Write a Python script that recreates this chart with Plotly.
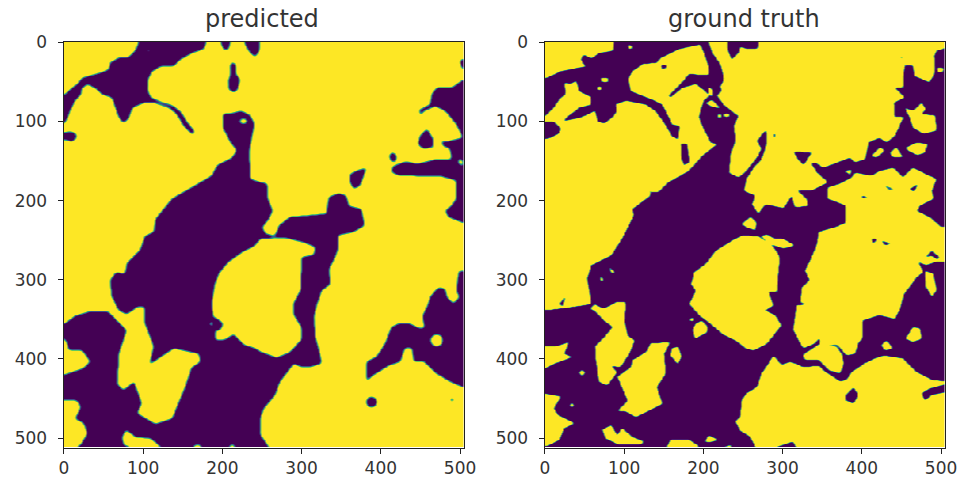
import numpy as np
import plotly.graph_objects as go

TITLES = ["predicted", "ground truth"]
TICKS = [0, 100, 200, 300, 400, 500]
WIDTH, HEIGHT = 505, 512

# Outlines, (x, y) in image units. Each outline flips the class inside it.
PRED_DARK = [
    [(94,-2),(94,0),(90,10),(82,18),(69,19),(58,25),(56,34),(46,38),(31,42),(22,45),(17,52),(10,57),(2,64),(-2,70),(-2,106),(4,95),(8,84),(14,73),(22,65),(22,58),(29,52),(39,57),(48,65),(60,69),(64,80),(69,94),(75,102),(82,94),(86,82),(102,75),(115,76),(132,82),(142,90),(151,105),(161,116),(165,113),(155,100),(147,87),(136,79),(123,75),(109,69),(105,59),(106,46),(111,36),(123,29),(138,30),(147,21),(161,13),(176,8),(180,-2)],
    [(-2,114),(8,112),(15,115),(16,120),(10,125),(4,123),(-2,123)],
    [(197,-2),(201,8),(207,9),(210,-2)],
    [(226,-2),(233,10),(241,18),(246,10),(247,-2)],
    [(212,24),(216,27),(217,40),(222,46),(219,59),(214,63),(208,59),(207,48),(210,40),(209,29)],
    [(201,90),(212,89),(224,86),(235,92),(240,103),(237,118),(234,134),(234,151),(235,172),(247,176),(256,178),(257,197),(263,212),(258,223),(250,233),(254,241),(266,244),(271,231),(285,220),(310,218),(331,216),(334,195),(346,190),(356,193),(359,206),(375,210),(379,231),(365,239),(346,243),(346,258),(342,271),(334,286),(336,305),(325,313),(319,330),(315,347),(317,372),(323,395),(325,405),(310,410),(300,410),(290,405),(277,422),(271,431),(266,445),(252,462),(248,473),(247,494),(260,514),(-2,514),(-2,357),(14,345),(31,340),(56,340),(79,363),(69,393),(67,431),(75,439),(88,428),(98,456),(92,468),(115,482),(136,475),(151,439),(161,410),(172,403),(170,393),(138,386),(107,407),(113,384),(102,355),(102,334),(92,334),(79,343),(69,338),(60,321),(58,300),(65,290),(77,292),(79,279),(88,270),(96,262),(100,250),(102,244),(113,239),(115,223),(136,197),(157,185),(186,168),(193,155),(212,145),(218,136),(210,126),(201,109),(200,92)],
    [(220,99),(226,95),(233,99),(226,103)],
    [(247,248),(241,256),(224,265),(207,277),(195,292),(190,305),(186,330),(188,346),(195,350),(201,355),(197,363),(190,364),(191,376),(203,375),(214,368),(228,382),(241,386),(247,390),(268,398),(285,391),(300,374),(300,361),(290,344),(290,328),(298,313),(300,271),(315,268),(317,258),(302,252),(277,246)],
    [(183,355),(186,352),(189,355),(186,358)],
    [(-2,370),(3,378),(6,389),(23,389),(33,403),(23,412),(-2,420)],
    [(-2,452),(16,452),(21,460),(14,475),(25,481),(29,494),(21,508),(10,514),(-2,514)],
    [(73,498),(78,489),(90,498),(109,500),(126,514),(84,511),(75,508)],
    [(157,514),(168,507),(180,514)],
    [(205,514),(212,506),(218,514)],
    [(507,19),(499,23),(502,32),(507,34)],
    [(507,44),(489,57),(470,57),(464,65),(462,78),(449,84),(448,92),(455,86),(468,80),(481,86),(495,103),(503,120),(487,124),(476,125),(478,130),(487,134),(489,147),(466,148),(455,151),(445,153),(431,150),(415,156),(413,163),(422,168),(443,168),(458,169),(474,168),(495,174),(495,197),(489,206),(481,212),(485,220),(507,229)],
    [(499,145),(504,151),(502,157),(497,151)],
    [(458,109),(466,122),(466,132),(453,134),(446,128),(449,118)],
    [(415,138),(420,143),(418,151),(412,149),(410,142)],
    [(382,158),(378,168),(373,181),(365,185),(360,174),(361,166),(371,161)],
    [(507,288),(498,289),(495,313),(499,321),(491,330),(483,321),(481,311),(472,309),(462,321),(458,334),(452,345),(455,361),(449,361),(437,355),(424,354),(413,359),(405,380),(394,397),(382,403),(382,428),(390,420),(411,407),(424,403),(430,386),(439,386),(441,403),(455,403),(470,418),(487,428),(507,437)],
    [(462,376),(465,370),(470,368),(476,370),(478,376),(476,382),(470,384),(465,382)],
    [(381,454),(383,449),(388,447),(393,449),(395,454),(393,459),(388,461),(383,459)],
    [(487,451),(490,448),(493,451),(490,454)],
    [(105,9),(109,8),(109,12),(105,12)],
    [(178,149),(181,149),(181,152),(178,152)],
    [(326,151),(329,151),(329,154),(326,154)],
]

TRUTH_YELLOW = [
    [(-2,-2),(87,-2),(85,10),(68,13),(58,20),(49,15),(45,21),(51,30),(39,32),(20,36),(0,45),(-2,45)],
    [(-2,95),(11,82),(18,71),(26,65),(24,50),(32,52),(39,48),(43,61),(58,69),(58,78),(43,82),(30,92),(22,99),(43,95),(53,91),(63,86),(66,99),(74,102),(85,94),(91,86),(89,78),(102,73),(127,78),(139,86),(150,101),(160,118),(167,122),(170,105),(160,103),(154,90),(148,78),(133,71),(118,65),(108,61),(105,46),(110,36),(123,27),(141,25),(146,19),(169,8),(196,2),(202,17),(207,34),(207,40),(196,41),(190,40),(181,40),(173,50),(156,67),(158,69),(173,57),(190,52),(202,61),(207,67),(200,73),(196,86),(194,94),(200,109),(209,126),(217,128),(198,143),(181,162),(156,176),(142,189),(133,189),(130,178),(133,193),(110,210),(112,218),(97,248),(83,269),(58,281),(53,298),(58,330),(47,332),(18,336),(1,338),(-2,338)],
    [(-2,100),(11,100),(20,108),(17,115),(7,120),(-2,122)],
    [(18,330),(26,320),(22,333)],
    [(146,27),(155,29),(152,32),(147,33)],
    [(171,128),(179,128),(182,151),(175,155),(172,145)],
    [(104,2),(110,4),(110,8),(105,7)],
    [(70,45),(80,44),(80,50),(72,50)],
    [(66,56),(72,55),(72,60),(66,60)],
    [(226,90),(233,90),(233,94),(226,94)],
    [(218,91),(223,91),(223,95),(218,95)],
    [(202,76),(211,72),(219,80),(221,83),(209,80)],
    [(205,55),(212,60),(212,68),(207,66)],
    [(206,-2),(211,13),(221,27),(226,46),(221,55),(223,61),(217,67),(225,78),(240,90),(244,92),(238,105),(240,124),(234,141),(232,164),(244,170),(252,164),(261,153),(267,145),(273,134),(267,124),(276,113),(280,111),(279,130),(273,147),(263,158),(254,172),(251,187),(265,193),(261,204),(269,216),(278,204),(301,209),(311,193),(315,208),(332,206),(330,197),(317,186),(336,187),(357,176),(343,164),(336,153),(340,151),(351,158),(385,145),(391,151),(404,147),(408,126),(422,120),(431,126),(441,118),(452,94),(441,94),(440,76),(454,69),(441,57),(452,57),(452,40),(454,29),(464,29),(466,42),(485,50),(492,38),(491,17),(494,10),(507,6),(507,-2)],
    [(313,137),(336,139),(326,155),(319,147)],
    [(230,-2),(268,-2),(269,3),(267,8),(256,8),(246,5),(244,13),(235,21),(230,8)],
    [(288,116),(291,116),(291,119),(288,119)],
    [(448,17),(452,19),(450,21)],
    [(454,82),(464,86),(475,76),(481,84),(475,90),(492,92),(494,111),(477,115),(464,107),(460,94)],
    [(456,132),(469,126),(483,128),(479,139),(469,142),(458,136)],
    [(435,139),(443,132),(452,145),(439,145)],
    [(412,143),(422,132),(429,136),(418,145)],
    [(494,32),(503,32),(503,36),(496,38)],
    [(378,162),(387,160),(385,167)],
    [(357,183),(372,178),(387,170),(391,164),(412,168),(422,162),(439,158),(452,170),(464,158),(485,168),(494,172),(488,187),(490,197),(473,206),(469,212),(485,220),(500,233),(507,233),(507,277),(492,277),(481,281),(471,277),(477,290),(469,296),(452,319),(448,336),(441,349),(422,344),(401,351),(401,372),(395,380),(391,393),(380,395),(368,381),(357,382),(368,384),(374,393),(377,405),(372,418),(359,414),(345,400),(328,401),(326,395),(330,391),(347,380),(347,372),(340,380),(326,386),(322,380),(313,363),(317,332),(332,330),(322,328),(324,309),(334,300),(328,288),(336,271),(343,254),(345,239),(366,233),(380,227),(380,206),(357,197)],
    [(427,180),(443,186),(435,186)],
    [(460,185),(471,178),(466,188)],
    [(399,193),(408,195),(401,197)],
    [(412,248),(419,248),(414,254)],
    [(424,250),(437,254),(429,256)],
    [(479,271),(488,263),(498,271),(495,274),(488,269)],
    [(248,229),(259,220),(267,227),(265,237),(254,233)],
    [(273,244),(280,242),(290,248),(301,248),(315,256),(301,260),(282,254),(277,248)],
    [(236,250),(215,263),(203,279),(188,290),(184,305),(190,313),(182,330),(194,344),(206,353),(224,368),(240,376),(253,386),(263,389),(280,380),(298,357),(290,344),(278,338),(288,332),(282,315),(292,315),(296,271),(288,258),(270,245),(250,243)],
    [(190,355),(198,351),(205,358),(204,366),(197,370),(189,374),(186,363)],
    [(182,349),(187,347),(188,351),(183,352)],
    [(57,336),(62,330),(74,336),(89,328),(102,328),(100,351),(104,370),(113,376),(107,391),(95,410),(83,408),(91,416),(78,433),(68,428),(66,416),(64,401),(63,384),(76,370),(85,359),(74,351),(64,340)],
    [(133,380),(158,378),(150,393),(152,418),(141,435),(148,456),(133,464),(114,473),(102,466),(91,466),(104,452),(91,422),(108,410),(110,401),(127,391)],
    [(160,386),(168,384),(172,397),(167,406),(158,395)],
    [(-2,384),(13,384),(30,378),(24,393),(34,397),(13,405),(-2,412)],
    [(43,417),(47,413),(51,417),(47,421)],
    [(31,458),(34,455),(37,458),(34,461)],
    [(-2,443),(20,447),(11,462),(16,470),(37,481),(24,487),(18,502),(1,510),(-2,510)],
    [(70,294),(74,300),(70,302)],
    [(79,281),(89,292),(83,290)],
    [(72,489),(83,483),(91,496),(97,487),(110,498),(125,504),(120,508),(93,508),(76,500)],
    [(154,510),(158,502),(181,501),(194,510),(194,514),(154,514)],
    [(202,504),(206,496),(219,502),(206,505)],
    [(217,514),(234,508),(236,514)],
    [(248,452),(246,473),(240,479),(246,490),(259,498),(267,514),(294,514),(294,510),(313,504),(318,514),(507,514),(507,428),(488,426),(469,416),(452,399),(427,395),(416,399),(403,405),(387,416),(380,426),(372,428),(353,415),(345,408),(326,410),(320,407),(309,403),(298,407),(288,395),(282,405),(273,418),(267,435),(254,443)],
    [(380,445),(389,435),(395,445),(389,456),(380,452)],
    [(507,431),(485,437),(475,443),(479,452),(488,445),(507,441)],
    [(464,359),(473,361),(475,374),(464,378),(455,374)],
    [(424,382),(431,376),(439,386),(429,389)],
    [(479,288),(490,292),(494,313),(488,321),(481,309)],
]

xs = np.arange(0, WIDTH, 1.0)
ys = np.arange(0, HEIGHT, 1.0)
X, Y = np.meshgrid(xs, ys)


def flip_mask(shapes):
    out = np.zeros(X.shape, dtype=bool)
    for shape in shapes:
        p = np.array(shape, dtype=float)
        q = np.roll(p, -1, axis=0)
        inside = np.zeros(X.shape, dtype=bool)
        for (x1, y1), (x2, y2) in zip(p, q):
            if y1 == y2:
                continue
            crossing = (y1 > Y) != (y2 > Y)
            inside ^= crossing & (X < x1 + (Y - y1) * (x2 - x1) / (y2 - y1))
        out ^= inside
    return out


def soften(mask, radius):
    """Round the outlines the way a small segmentation mask looks when it is scaled up."""
    a = mask.astype(float)
    kernel = np.ones(2 * radius + 1) / (2 * radius + 1)
    for _ in range(2):
        a = np.apply_along_axis(lambda r: np.convolve(np.pad(r, radius, mode="edge"), kernel, "valid"), 1, a)
        a = np.apply_along_axis(lambda c: np.convolve(np.pad(c, radius, mode="edge"), kernel, "valid"), 0, a)
    return np.clip((a - 0.5) * 2.5 + 0.5, 0, 1)


z_pred = np.round(255 * soften(~flip_mask(PRED_DARK), 2)).astype(np.uint8)
z_truth = np.round(255 * soften(flip_mask(TRUTH_YELLOW), 1)).astype(np.uint8)

fig = go.Figure()
for i, z in enumerate([z_pred, z_truth]):
    suffix = "" if i == 0 else "2"
    fig.add_trace(go.Heatmap(x=xs, y=ys, z=z, zmin=0, zmax=255, colorscale="Viridis",
                             zsmooth="best", showscale=False, hoverinfo="skip",
                             xaxis="x" + suffix, yaxis="y" + suffix))

axis = dict(showgrid=False, zeroline=False, showline=True, mirror=True, linecolor="#222222",
            linewidth=1, ticks="outside", ticklen=5, tickwidth=1, tickcolor="#222222",
            automargin=False, tickvals=TICKS,
            tickfont=dict(family="DejaVu Sans", size=17, color="#333333"))
W, H = 959, 482
fig.update_layout(
    width=W, height=H, margin=dict(l=0, r=0, t=0, b=0, pad=0, autoexpand=False),
    paper_bgcolor="white", plot_bgcolor="white", showlegend=False,
    xaxis=dict(axis, domain=[63.5 / W, 464 / W], range=[-0.5, WIDTH], anchor="y"),
    yaxis=dict(axis, domain=[(H - 448) / H, (H - 42) / H], range=[HEIGHT + 0.5, -0.5], anchor="x",
               ticklabelstandoff=7),
    xaxis2=dict(axis, domain=[544.5 / W, 945 / W], range=[-0.5, WIDTH], anchor="y2"),
    yaxis2=dict(axis, domain=[(H - 448) / H, (H - 42) / H], range=[HEIGHT + 0.5, -0.5], anchor="x2",
                ticklabelstandoff=7),
    annotations=[
        dict(text=TITLES[0], x=262 / W, y=(H - 35) / H, xref="paper", yref="paper", showarrow=False,
             xanchor="center", yanchor="bottom", font=dict(family="DejaVu Sans", size=24, color="#333333")),
        dict(text=TITLES[1], x=743.5 / W, y=(H - 35) / H, xref="paper", yref="paper", showarrow=False,
             xanchor="center", yanchor="bottom", font=dict(family="DejaVu Sans", size=24, color="#333333")),
    ],
)
fig.write_html("out.html", include_plotlyjs=True, config={"displayModeBar": False},
               post_script="document.body.style.margin='0';")
